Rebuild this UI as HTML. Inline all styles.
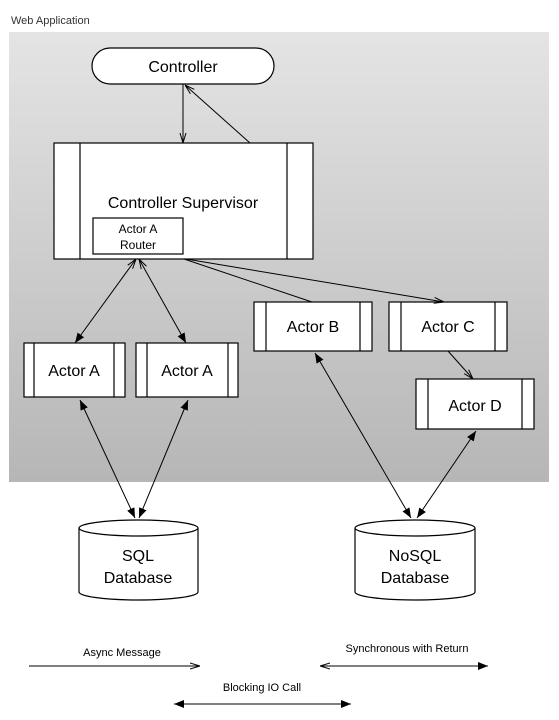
<!DOCTYPE html>
<html><head><meta charset="utf-8"><style>
html,body{margin:0;padding:0;background:#fff;}
svg{display:block;font-family:"Liberation Sans",Arial,sans-serif;}
</style></head><body>
<svg width="559" height="720" viewBox="0 0 559 720" xmlns="http://www.w3.org/2000/svg">
<defs>
<linearGradient id="g" x1="0" y1="0" x2="0" y2="1">
<stop offset="0" stop-color="#e4e4e4"/><stop offset="1" stop-color="#b6b6b6"/>
</linearGradient>
<marker id="f" viewBox="0 0 10 10" refX="10" refY="5" markerWidth="10" markerHeight="10" markerUnits="userSpaceOnUse" orient="auto-start-reverse"><path d="M0,1 L10,5 L0,9 z" fill="#000"/></marker>
<marker id="o" viewBox="0 0 10 10" refX="10" refY="5" markerWidth="10" markerHeight="10" markerUnits="userSpaceOnUse" orient="auto-start-reverse"><path d="M0,2 L10,5 L0,8" fill="none" stroke="#000" stroke-width="1"/></marker>
</defs>
<text x="11" y="24" font-size="11" fill="#333">Web Application</text>
<rect x="9" y="32" width="540" height="450" fill="url(#g)"/>
<g stroke="#000" stroke-width="1.2" fill="#fff">
<rect x="92" y="48" width="182" height="36" rx="18"/>
<rect x="54" y="143" width="259" height="116"/>
<line x1="80" y1="143" x2="80" y2="259"/><line x1="287" y1="143" x2="287" y2="259"/>
<rect x="93" y="218" width="90" height="36"/>
<rect x="24" y="343" width="101" height="54"/><line x1="34" y1="343" x2="34" y2="397"/><line x1="114" y1="343" x2="114" y2="397"/>
<rect x="136" y="343" width="102" height="54"/><line x1="147" y1="343" x2="147" y2="397"/><line x1="228" y1="343" x2="228" y2="397"/>
<rect x="254" y="302" width="118" height="49"/><line x1="266" y1="302" x2="266" y2="351"/><line x1="360" y1="302" x2="360" y2="351"/>
<rect x="389" y="302" width="118" height="49"/><line x1="401" y1="302" x2="401" y2="351"/><line x1="495" y1="302" x2="495" y2="351"/>
<rect x="416" y="379" width="118" height="50"/><line x1="428" y1="379" x2="428" y2="429"/><line x1="522" y1="379" x2="522" y2="429"/>
<path d="M79,528 L79,592 A59.5,8 0 0 0 198,592 L198,528 A59.5,8 0 0 0 79,528 A59.5,8 0 0 0 198,528" />
<path d="M355,528 L355,592 A60,8 0 0 0 475,592 L475,528 A60,8 0 0 0 355,528 A60,8 0 0 0 475,528" />
</g>
<g stroke="#000" stroke-width="1" fill="none">
<line x1="183" y1="84" x2="183" y2="143" marker-end="url(#o)"/>
<line x1="250" y1="143" x2="185" y2="85" marker-end="url(#o)"/>
<line x1="136" y1="259" x2="75" y2="343" marker-start="url(#o)" marker-end="url(#f)"/>
<line x1="139" y1="259" x2="186" y2="343" marker-start="url(#o)" marker-end="url(#f)"/>
<line x1="184" y1="259" x2="312" y2="302"/>
<line x1="186" y1="259" x2="444" y2="302" marker-end="url(#o)"/>
<line x1="448" y1="351" x2="473" y2="379" marker-end="url(#o)"/>
<line x1="80" y1="400" x2="135" y2="518" marker-start="url(#f)" marker-end="url(#f)"/>
<line x1="188" y1="400" x2="139" y2="518" marker-start="url(#f)" marker-end="url(#f)"/>
<line x1="315" y1="353" x2="411" y2="518" marker-start="url(#f)" marker-end="url(#f)"/>
<line x1="476" y1="431" x2="417" y2="518" marker-start="url(#f)" marker-end="url(#f)"/>
<line x1="29" y1="666" x2="200" y2="666" marker-end="url(#o)"/>
<line x1="320" y1="666" x2="488" y2="666" marker-start="url(#o)" marker-end="url(#f)"/>
<line x1="174" y1="704" x2="351" y2="704" marker-start="url(#f)" marker-end="url(#f)"/>
</g>
<g font-size="16" text-anchor="middle" fill="#000">
<text x="183" y="72">Controller</text>
<text x="183" y="208">Controller Supervisor</text>
<text x="138" y="233" font-size="12">Actor A</text>
<text x="138" y="249" font-size="12">Router</text>
<text x="74" y="376">Actor A</text>
<text x="187" y="376">Actor A</text>
<text x="313" y="332">Actor B</text>
<text x="448" y="332">Actor C</text>
<text x="475" y="411">Actor D</text>
<text x="138" y="561">SQL</text>
<text x="138" y="583">Database</text>
<text x="415" y="561">NoSQL</text>
<text x="415" y="583">Database</text>
<g font-size="11"><text x="122" y="656">Async Message</text>
<text x="407" y="652">Synchronous with Return</text>
<text x="262" y="691">Blocking IO Call</text></g>
</g>
</svg>
</body></html>
